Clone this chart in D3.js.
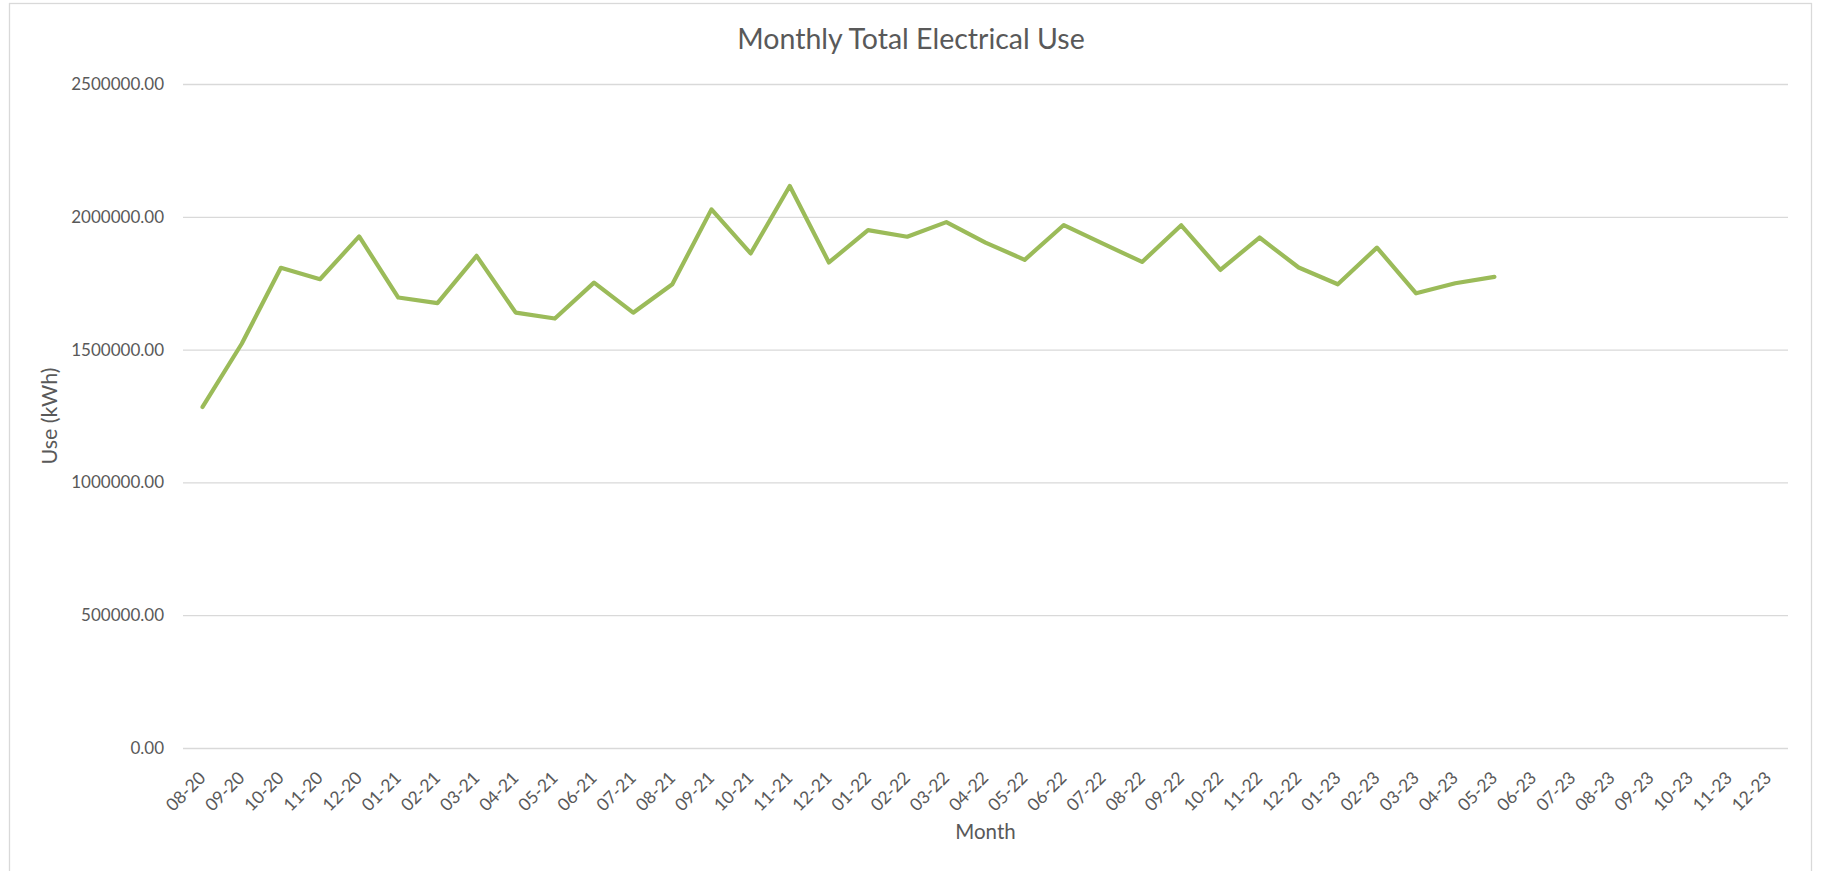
<!DOCTYPE html>
<html>
<head>
<meta charset="utf-8">
<script src="https://cdn.jsdelivr.net/npm/d3@7"></script>
<style>
  body { margin: 0; background: #fff; }
  svg text { font-family: Lato, "Open Sans", sans-serif; fill: #595959; }
  .grid line { stroke: #d9d9d9; stroke-width: 1.3; }
</style>
</head>
<body>
<div id="chart"></div>
<script>
// month labels along the category axis
const months = [
  "08-20","09-20","10-20","11-20","12-20",
  "01-21","02-21","03-21","04-21","05-21","06-21","07-21","08-21","09-21","10-21","11-21","12-21",
  "01-22","02-22","03-22","04-22","05-22","06-22","07-22","08-22","09-22","10-22","11-22","12-22",
  "01-23","02-23","03-23","04-23","05-23","06-23","07-23","08-23","09-23","10-23","11-23","12-23"
];

// kWh per month (no data after 05-23)
const useKwh = [
  1284000, 1522000, 1808000, 1765000, 1926000,
  1696000, 1675000, 1853000, 1639000, 1617000, 1752000, 1639000, 1746000, 2028000, 1862000, 2116000, 1828000,
  1950000, 1925000, 1980000, 1903000, 1838000, 1969000, 1899000, 1830000, 1968000, 1800000, 1922000, 1809000,
  1746000, 1884000, 1712000, 1750000, 1774000, null, null, null, null, null, null, null
];

const yTicks = [0, 500000, 1000000, 1500000, 2000000, 2500000];

const chartTitle = "Monthly Total Electrical Use";
const xTitle = "Month";
const yTitle = "Use (kWh)";

class LineChart {
  constructor(_config, _data) {
    this.config = {
      parentElement: _config.parentElement,
      containerWidth: _config.containerWidth || 1826,
      containerHeight: _config.containerHeight || 871,
      margin: _config.margin || {top: 84, right: 38, bottom: 123, left: 183}
    }
    this.data = _data;
    this.initVis();
  }

  initVis() {
    let vis = this;

    vis.width = vis.config.containerWidth - vis.config.margin.left - vis.config.margin.right;
    vis.height = vis.config.containerHeight - vis.config.margin.top - vis.config.margin.bottom;

    vis.svg = d3.select(vis.config.parentElement)
      .append("svg")
        .attr("width", vis.config.containerWidth)
        .attr("height", vis.config.containerHeight);

    // chart area border
    vis.svg.append("rect")
      .attr("x", 9.5)
      .attr("y", 3.5)
      .attr("width", 1802)
      .attr("height", 900)
      .attr("fill", "none")
      .attr("stroke", "#d9d9d9")
      .attr("stroke-width", 1.3);

    vis.chart = vis.svg.append("g")
      .attr("transform", `translate(${vis.config.margin.left},${vis.config.margin.top})`);

    vis.xScale = d3.scaleBand()
      .domain(months)
      .range([0, vis.width]);

    vis.yScale = d3.scaleLinear()
      .domain([0, 2500000])
      .range([vis.height, 0]);

    vis.yAxis = d3.axisLeft(vis.yScale)
      .tickValues(yTicks)
      .tickFormat(d3.format(".2f"))
      .tickSize(-vis.width)
      .tickPadding(19);

    vis.xAxis = d3.axisBottom(vis.xScale)
      .tickSize(0)
      .tickPadding(0);

    vis.yAxisG = vis.chart.append("g")
      .attr("class", "axis y-axis grid");

    vis.xAxisG = vis.chart.append("g")
      .attr("class", "axis x-axis")
      .attr("transform", `translate(0,${vis.height})`);

    // titles
    vis.svg.append("text")
      .attr("x", 911)
      .attr("y", 49)
      .attr("text-anchor", "middle")
      .style("font-size", "28.5px")
      .text(chartTitle);

    vis.svg.append("text")
      .attr("x", vis.config.margin.left + vis.width / 2)
      .attr("y", 839)
      .attr("text-anchor", "middle")
      .style("font-size", "20.5px")
      .text(xTitle);

    vis.svg.append("text")
      .attr("transform", `translate(57,${vis.config.margin.top + vis.height / 2}) rotate(-90)`)
      .attr("text-anchor", "middle")
      .style("font-size", "21.5px")
      .text(yTitle);

    vis.renderVis();
  }

  renderVis() {
    let vis = this;

    vis.yAxisG.call(vis.yAxis)
      .call(g => g.select(".domain").remove())
      .selectAll("text")
        .style("font-size", "17px");

    vis.xAxisG.call(vis.xAxis)
      .call(g => g.select(".domain").remove())
      .selectAll("text")
        .style("font-size", "17.5px")
        .attr("text-anchor", "end")
        .attr("dy", null)
        .attr("y", 0)
        .attr("transform", "translate(4,31) rotate(-45)");

    const line = d3.line()
      .defined(d => d.value != null)
      .x(d => vis.xScale(d.month) + vis.xScale.bandwidth() / 2)
      .y(d => vis.yScale(d.value));

    vis.chart.append("path")
      .datum(vis.data)
      .attr("fill", "none")
      .attr("stroke", "#9bbb59")
      .attr("stroke-width", 4.2)
      .attr("stroke-linejoin", "round")
      .attr("stroke-linecap", "round")
      .attr("d", line);
  }
}

const data = months.map((m, i) => ({month: m, value: useKwh[i]}));

const chart = new LineChart({parentElement: "#chart"}, data);
</script>
</body>
</html>
